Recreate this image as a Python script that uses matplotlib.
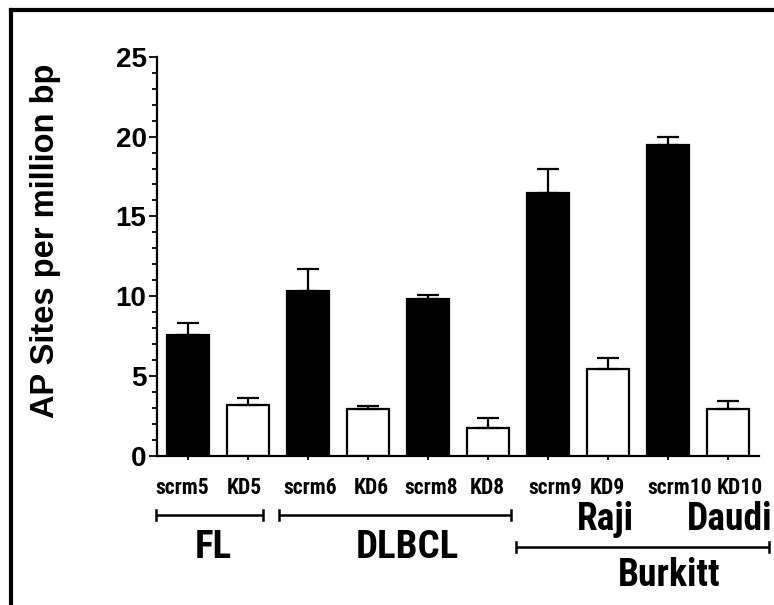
import matplotlib
matplotlib.use("Agg")
import matplotlib.pyplot as plt
import matplotlib.transforms as mtransforms
from matplotlib import font_manager
from matplotlib.lines import Line2D
from matplotlib.ticker import MultipleLocator
import numpy as np

# Sample labels and measured AP site densities (mean, upper SEM)
samples = ["scrm5", "KD5", "scrm6", "KD6", "scrm8", "KD8",
           "scrm9", "KD9", "scrm10", "KD10"]
means = [7.6, 3.2, 10.3, 2.95, 9.8, 1.75, 16.45, 5.45, 19.45, 2.95]
errors = [0.75, 0.45, 1.4, 0.2, 0.3, 0.6, 1.5, 0.7, 0.5, 0.5]
is_control = [True, False, True, False, True, False, True, False, True, False]

# Cell-line groupings beneath the axis: (label, first index, last index)
lymphoma_groups = [("FL", 0, 1), ("DLBCL", 2, 5)]
burkitt_lines = [("Raji", 6, 7), ("Daudi", 8, 9)]
burkitt_group = ("Burkitt", 6, 9)

yticks = [0, 5, 10, 15, 20, 25]
ylabel = "AP Sites per million bp"

SANS = ["Liberation Sans", "DejaVu Sans"]


def pick_condensed():
    """Find a narrow bold face among the installed fonts."""
    names = {f.name for f in font_manager.fontManager.ttflist}
    for fam in ("Liberation Sans Narrow", "Arial Narrow", "Roboto Condensed",
                "Open Sans Condensed", "DejaVu Sans Condensed"):
        if fam in names:
            return {"family": [fam, "DejaVu Sans"], "stretch": "normal"}
    for f in font_manager.fontManager.ttflist:
        if f.name == "DejaVu Sans" and "Condensed" in f.fname and "Bold" in f.fname \
                and "Oblique" not in f.fname:
            return {"fontproperties": font_manager.FontProperties(fname=f.fname)}
    return {"family": SANS, "stretch": "condensed"}


NARROW = pick_condensed()


def narrow_kw(size):
    kw = dict(NARROW)
    if "fontproperties" in kw:
        fp = kw["fontproperties"].copy()
        fp.set_size(size)
        return {"fontproperties": fp}
    kw.update(fontsize=size, fontweight="bold")
    return kw


W, H, DPI = 774, 605, 100
fig = plt.figure(figsize=(W / DPI, H / DPI), dpi=DPI)


def px_x(x):
    return x / W


def px_y(y):
    return 1 - y / H


ax_left, ax_right, ax_top, ax_bottom = 157, 759, 56.7, 456
ax = fig.add_axes([px_x(ax_left), px_y(ax_bottom),
                   (ax_right - ax_left) / W, (ax_bottom - ax_top) / H])

x = np.arange(len(samples))
colors = ["black" if c else "white" for c in is_control]
ax.bar(x, means, width=0.7, color=colors, edgecolor="black",
       linewidth=1.6, zorder=2)
ax.errorbar(x, means, yerr=[np.zeros(len(means)), errors], fmt="none",
            ecolor="black", elinewidth=1.6, capsize=8, capthick=1.6, zorder=3)

ax.set_xlim(-0.517, len(samples) - 0.483)
ax.set_ylim(0, 25)
for side in ("top", "right"):
    ax.spines[side].set_visible(False)
for side in ("left", "bottom"):
    ax.spines[side].set_linewidth(1.6)

ax.set_yticks(yticks)
ax.yaxis.set_minor_locator(MultipleLocator(1))
ax.tick_params(axis="y", which="major", length=6, width=1.3, pad=1.5)
ax.tick_params(axis="y", which="minor", length=3.8, width=1.3)
for lbl in ax.get_yticklabels():
    lbl.set_fontfamily(SANS)
    lbl.set_fontweight("bold")
    lbl.set_fontsize(20)

ax.set_xticks(x)
ax.set_xticklabels([])
ax.tick_params(axis="x", length=3, width=1.3)

trans = ax.get_xaxis_transform()


def axes_y(py):
    return -(py - ax_bottom) / (ax_bottom - ax_top)


# sample names under each bar
label_shift_px = [-6, -4, 2, 3, 3, -1, 7, -1, 12, 12]
for xi, name, dx in zip(x, samples, label_shift_px):
    off = mtransforms.ScaledTranslation(dx / DPI, 0, fig.dpi_scale_trans)
    ax.text(xi, axes_y(488), name, transform=trans + off,
            ha="center", va="center", **narrow_kw(15.5))

ax.set_ylabel(ylabel, fontsize=23.5, fontweight="bold", family=SANS)
ax.yaxis.set_label_coords((61 - ax_left) / (ax_right - ax_left),
                          (ax_bottom - 241) / (ax_bottom - ax_top))


# group brackets below the sample names
def bracket(x0, x1, py, lw=1.8):
    yb = axes_y(py)
    h = 5 / (ax_bottom - ax_top)
    ax.add_line(Line2D([x0, x1], [yb, yb], transform=trans, color="black",
                       lw=lw, clip_on=False, solid_capstyle="butt"))
    for xe in (x0, x1):
        ax.add_line(Line2D([xe, xe], [yb - h, yb + h], transform=trans,
                           color="black", lw=lw, clip_on=False))


bracket_ends = {"FL": (-0.53, 0.25), "DLBCL": (-0.48, 0.38)}
text_shift = {"FL": 0.06, "DLBCL": 0.2}
for name, i0, i1 in lymphoma_groups:
    lo, hi = bracket_ends[name]
    x0, x1 = i0 + lo, i1 + hi
    bracket(x0, x1, 515)
    ax.text((x0 + x1) / 2 + text_shift[name], axes_y(548), name,
            transform=trans, ha="center", va="center", **narrow_kw(28))

line_shift = {"Raji": 0.45, "Daudi": 0.53}
for name, i0, i1 in burkitt_lines:
    ax.text((i0 + i1) / 2 + line_shift[name], axes_y(520), name,
            transform=trans, ha="center", va="center", **narrow_kw(27))

bname, b0, b1 = burkitt_group
bx0, bx1 = b0 - 0.53, b1 + 0.68
bracket(bx0, bx1, 547)
ax.text((bx0 + bx1) / 2 + 0.45, axes_y(576), bname, transform=trans,
        ha="center", va="center", **narrow_kw(27))

# panel frame (top and left edges)
fig.add_artist(Line2D([px_x(11), 1.0], [px_y(10), px_y(10)],
                      transform=fig.transFigure, color="black", lw=3,
                      solid_capstyle="projecting"))
fig.add_artist(Line2D([px_x(11), px_x(11)], [px_y(10), 0.0],
                      transform=fig.transFigure, color="black", lw=3,
                      solid_capstyle="projecting"))

fig.savefig("out.png", dpi=DPI)
